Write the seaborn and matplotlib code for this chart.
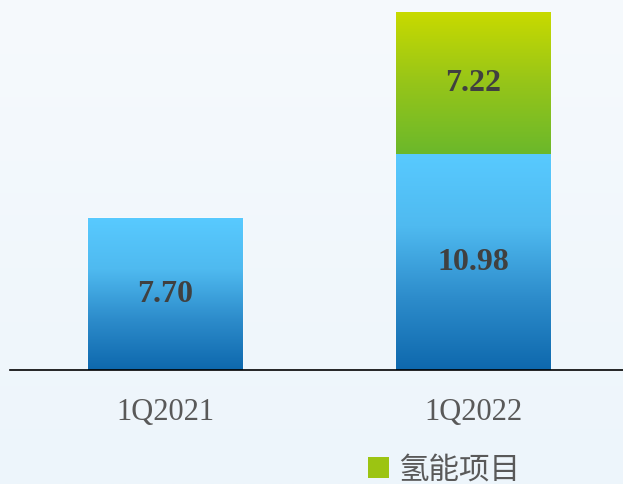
import numpy as np
import pandas as pd
import seaborn as sns
import matplotlib
matplotlib.use('Agg')
import matplotlib.pyplot as plt
from matplotlib.colors import LinearSegmentedColormap
from matplotlib.patches import Patch

# Data
quarters = ['1Q2021', '1Q2022']
base_values = [7.70, 10.98]
hydrogen_values = [0.0, 7.22]
legend_label = '氢能项目'

totals = [b + h for b, h in zip(base_values, hydrogen_values)]
df = pd.DataFrame({'quarter': quarters, 'base': base_values,
                   'hydrogen': hydrogen_values, 'total': totals})

sns.set_theme(style='white')
plt.rcParams['font.family'] = ['Liberation Serif', 'DejaVu Sans']

fig = plt.figure(figsize=(6.23, 4.85), dpi=100)

# Light background gradient over the whole figure
bg = fig.add_axes([0, 0, 1, 1], zorder=-10)
bg_cmap = LinearSegmentedColormap.from_list('bg', ['#f6fafd', '#edf5fb'])
bg.imshow(np.linspace(0, 1, 256).reshape(-1, 1), cmap=bg_cmap, aspect='auto',
          extent=[0, 1, 0, 1])
bg.axis('off')

ax = fig.add_axes([10 / 623, 114.5 / 485, 613 / 623, 370.5 / 485])
ax.patch.set_alpha(0)

# Stacked bars: totals first (green part), base on top of it (blue part)
sns.barplot(data=df, x='quarter', y='total', color='#9cc412', width=0.5,
            saturation=1, ax=ax)
n_green = len(ax.patches)
sns.barplot(data=df, x='quarter', y='base', color='#3aa0e0', width=0.5,
            saturation=1, ax=ax)

blue_cmap = LinearSegmentedColormap.from_list('blue', ['#0e68ad', '#2d8ccb', '#4fbaf0', '#58caff'])
green_cmap = LinearSegmentedColormap.from_list('green', ['#6bb82b', '#96c519', '#c8da00'])
grad = np.linspace(0, 1, 256).reshape(-1, 1)

for i, p in enumerate(ax.patches):
    x0, y0 = p.get_x(), p.get_y()
    w, h = p.get_width(), p.get_height()
    if h <= 0:
        continue
    if i < n_green:
        # green segment spans from the base value to the total
        k = i
        lo = base_values[k]
        if hydrogen_values[k] <= 0:
            continue
        ax.imshow(grad, cmap=green_cmap, origin='lower', aspect='auto',
                  extent=[x0, x0 + w, lo, y0 + h], zorder=p.get_zorder() + 0.1)
    else:
        ax.imshow(grad, cmap=blue_cmap, origin='lower', aspect='auto',
                  extent=[x0, x0 + w, y0, y0 + h], zorder=p.get_zorder() + 0.2)

# Value labels centred in each segment
for k in range(len(quarters)):
    ax.text(k, base_values[k] / 2, f'{base_values[k]:.2f}', ha='center', va='center',
            fontsize=23, fontweight='bold', color='#404040', zorder=5)
    if hydrogen_values[k] > 0:
        ax.text(k, base_values[k] + hydrogen_values[k] / 2, f'{hydrogen_values[k]:.2f}',
                ha='center', va='center', fontsize=23, fontweight='bold',
                color='#404040', zorder=5)

ax.set_xlim(-0.503, 1.487)
ax.set_ylim(0, 18.85)
ax.set_xlabel('')
ax.set_ylabel('')
ax.set_yticks([])
sns.despine(ax=ax, left=True)
ax.spines['bottom'].set_color('black')
ax.spines['bottom'].set_linewidth(1.2)
ax.tick_params(axis='x', length=0, pad=20, labelsize=22, labelcolor='#595959')

fig.legend(handles=[Patch(facecolor='#9cc412', edgecolor='none', label=legend_label)],
           loc='center left', bbox_to_anchor=(368 / 623, 0.03), frameon=False,
           handlelength=0.7, handleheight=0.7, handletextpad=0.3, borderpad=0,
           borderaxespad=0, prop={'family': ['Noto Sans CJK SC', 'DejaVu Sans'], 'size': 22},
           labelcolor='#595959')

fig.savefig('out.png', dpi=100)
